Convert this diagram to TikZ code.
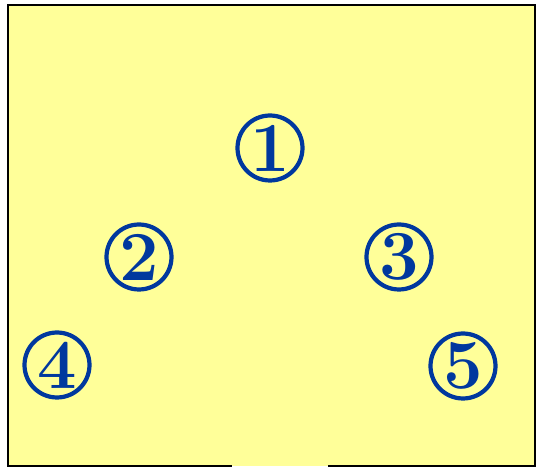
\documentclass[tikz,border=0pt]{standalone}
\usepackage{tikz}
\usetikzlibrary{positioning}
\usepackage{xcolor}
\definecolor{notepad}{RGB}{255, 255, 153}
\definecolor{markblue}{RGB}{0, 56, 158}

\begin{document}
\begin{tikzpicture}[x=0.02cm, y=-0.02cm,
    numcircle/.style={draw=markblue, line width=2.4pt, circle, minimum size=1.3cm, inner sep=0pt,
      text=markblue, font=\fontsize{40}{40}\selectfont\bfseries}]
      \useasboundingbox (0,0) rectangle (539,469);
      \fill[notepad] (8,5) rectangle (535,466);
      \coordinate (gl) at (232,466);
      \coordinate (gr) at (328,466);
      \draw[line width=1.1pt] (gl) -- (8,466) -- (8,5) -- (535,5) -- (535,466) -- (gr);
      \node[numcircle] (n1) at (270,148) {1};
      \node[numcircle] (n2) at (139,257) {2};
      \node[numcircle] (n3) at (399,257) {3};
      \node[numcircle] (n4) at (57,365) {4};
      \node[numcircle] (n5) at (463,366) {5};
    \end{tikzpicture}
\end{document}
